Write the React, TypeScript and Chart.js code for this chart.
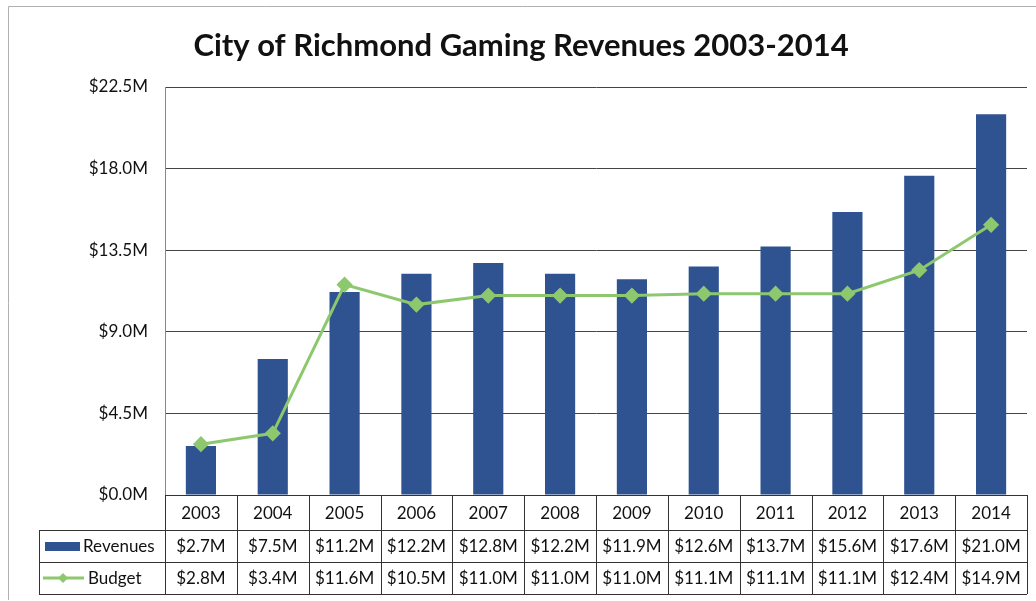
import React, { useEffect, useRef } from "react";
import { Chart, registerables } from "chart.js";

Chart.register(...registerables);

const years = ["2003", "2004", "2005", "2006", "2007", "2008", "2009", "2010", "2011", "2012", "2013", "2014"];
const revenues = [2.7, 7.5, 11.2, 12.2, 12.8, 12.2, 11.9, 12.6, 13.7, 15.6, 17.6, 21.0];
const budget = [2.8, 3.4, 11.6, 10.5, 11.0, 11.0, 11.0, 11.1, 11.1, 11.1, 12.4, 14.9];
const yTicks = [0, 4.5, 9, 13.5, 18, 22.5];
const titleText = "City of Richmond Gaming Revenues 2003-2014";
const seriesNames = ["Revenues", "Budget"];

const BLUE = "#2f5391";
const GREEN = "#8dc86f";
const FONT = "Lato, 'Open Sans', sans-serif";
const fmt = (v: number) => "$" + v.toFixed(1) + "M";

const tablePlugin = {
  id: "dataTable",
  afterDraw(chart: any) {
    const ctx = chart.ctx as CanvasRenderingContext2D;
    const x = chart.scales.x;
    const area = chart.chartArea;
    const W = chart.width;
    ctx.save();
    // outer frame
    ctx.strokeStyle = "#b0b0b0";
    ctx.lineWidth = 1;
    ctx.beginPath();
    ctx.moveTo(8.5, 600);
    ctx.lineTo(8.5, 6.5);
    ctx.lineTo(W, 6.5);
    ctx.stroke();

    // title
    ctx.fillStyle = "#111";
    ctx.font = "bold 31px " + FONT;
    ctx.textAlign = "center";
    ctx.textBaseline = "middle";
    ctx.fillText(titleText, 521, 46);

    const n = years.length;
    const cw = (area.right - area.left) / n;
    const r0 = area.bottom;
    const r1 = 530;
    const r2 = 562;
    const r3 = 594;
    const labelLeft = 39;

    ctx.strokeStyle = "#333";
    ctx.lineWidth = 1;
    ctx.beginPath();
    ctx.moveTo(area.left, r0 + 0.5);
    ctx.lineTo(area.right, r0 + 0.5);
    ctx.moveTo(labelLeft, r1 + 0.5);
    ctx.lineTo(area.right, r1 + 0.5);
    ctx.moveTo(labelLeft, r2 + 0.5);
    ctx.lineTo(area.right, r2 + 0.5);
    ctx.moveTo(labelLeft, r3 + 0.5);
    ctx.lineTo(area.right, r3 + 0.5);
    ctx.moveTo(labelLeft + 0.5, r1);
    ctx.lineTo(labelLeft + 0.5, r3);
    for (let i = 0; i <= n; i++) {
      const px = Math.round(area.left + i * cw) + 0.5;
      ctx.moveTo(px, r0);
      ctx.lineTo(px, r3);
    }
    ctx.stroke();

    ctx.fillStyle = "#111";
    ctx.font = "17px " + FONT;
    ctx.textAlign = "center";
    ctx.textBaseline = "middle";
    for (let i = 0; i < n; i++) {
      const cx = x.getPixelForValue(i);
      ctx.fillText(years[i], cx, (r0 + r1) / 2 + 1);
      ctx.fillText(fmt(revenues[i]), cx, (r1 + r2) / 2 + 1);
      ctx.fillText(fmt(budget[i]), cx, (r2 + r3) / 2 + 1);
    }

    // legend keys
    ctx.fillStyle = BLUE;
    ctx.fillRect(45, (r1 + r2) / 2 - 4, 35, 9);
    ctx.strokeStyle = GREEN;
    ctx.lineWidth = 3;
    ctx.beginPath();
    ctx.moveTo(43, (r2 + r3) / 2);
    ctx.lineTo(84, (r2 + r3) / 2);
    ctx.stroke();
    ctx.fillStyle = GREEN;
    ctx.beginPath();
    const my = (r2 + r3) / 2;
    ctx.moveTo(63, my - 5);
    ctx.lineTo(68, my);
    ctx.lineTo(63, my + 5);
    ctx.lineTo(58, my);
    ctx.closePath();
    ctx.fill();

    ctx.fillStyle = "#111";
    ctx.font = "17px " + FONT;
    ctx.textAlign = "left";
    ctx.fillText(seriesNames[0], 83, (r1 + r2) / 2 + 1);
    ctx.fillText(seriesNames[1], 88, (r2 + r3) / 2 + 1);
    ctx.restore();
  },
};

export default function App() {
  const ref = useRef<HTMLCanvasElement>(null);
  useEffect(() => {
    if (!ref.current) return;
    const chart = new Chart(ref.current, {
      type: "bar",
      data: {
        labels: years,
        datasets: [
          {
            type: "line",
            label: seriesNames[1],
            data: budget,
            borderColor: GREEN,
            backgroundColor: GREEN,
            borderWidth: 3,
            pointStyle: "rectRot",
            pointRadius: 6,
            pointBackgroundColor: GREEN,
            pointBorderColor: GREEN,
            tension: 0,
            order: 0,
          } as any,
          {
            type: "bar",
            label: seriesNames[0],
            data: revenues,
            backgroundColor: BLUE,
            categoryPercentage: 1,
            barPercentage: 0.42,
            order: 1,
          },
        ],
      },
      options: {
        responsive: false,
        animation: false,
        layout: { padding: { top: 87, right: 9, bottom: 106, left: 0 } },
        plugins: {
          legend: { display: false },
          title: { display: false },
          tooltip: { enabled: false },
        },
        scales: {
          x: {
            display: false,
            offset: true,
          },
          y: {
            min: 0,
            max: 22.5,
            afterFit: (s: any) => {
              s.width = 165;
            },
            afterBuildTicks: (s: any) => {
              s.ticks = yTicks.map((v) => ({ value: v }));
            },
            grid: {
              color: "#444",
              drawTicks: false,
            },
            border: { color: "#888" },
            ticks: {
              padding: 17,
              color: "#111",
              font: { family: FONT, size: 17 },
              callback: (v: any) => fmt(Number(v)),
            },
          },
        },
      },
      plugins: [tablePlugin],
    });
    return () => chart.destroy();
  }, []);
  return (
    <div style={{ position: "absolute", left: 0, top: 0, width: 1036, height: 601, background: "#fff" }}>
      <canvas ref={ref} width={1036} height={601} style={{ width: 1036, height: 601 }} />
    </div>
  );
}
